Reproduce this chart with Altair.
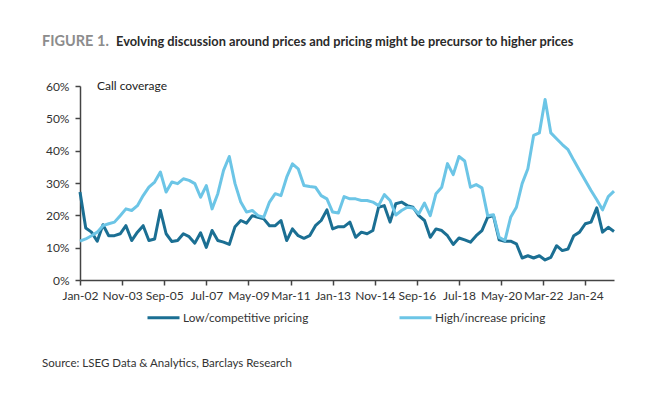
import altair as alt
import pandas as pd

# Quarterly observations, Jan-02 .. Apr-25 (value in %)
low = [27.2, 16.1, 14.8, 12.0, 17.1, 13.7, 13.7, 14.3, 16.8, 12.2, 14.8, 16.8, 12.2, 12.7,
       21.5, 14.3, 11.9, 12.2, 14.3, 13.4, 11.4, 14.6, 10.1, 15.3, 12.2, 11.7, 11.0, 16.5,
       18.4, 17.6, 19.9, 19.4, 18.9, 16.8, 16.8, 18.4, 12.2, 15.8, 13.7, 12.9, 13.7, 16.8,
       18.4, 21.7, 15.8, 16.5, 16.5, 17.9, 13.2, 14.8, 14.3, 15.3, 22.5, 23.0, 17.9, 23.6,
       24.1, 23.0, 22.5, 19.9, 18.4, 13.2, 15.8, 15.3, 13.7, 11.0, 13.0, 12.4, 11.7, 13.7,
       15.3, 19.4, 19.9, 12.4, 12.0, 12.0, 11.2, 6.8, 7.5, 6.8, 7.5, 6.2, 7.0, 10.6,
       9.1, 9.6, 13.7, 14.8, 17.4, 17.9, 22.3, 14.8, 16.3, 15.0]
high = [12.0, 12.7, 13.7, 14.8, 16.8, 17.4, 17.9, 19.9, 22.0, 21.5, 23.0, 26.1, 28.7, 30.3,
        33.4, 27.2, 30.3, 29.8, 31.3, 30.8, 29.8, 25.6, 29.2, 22.0, 26.7, 33.9, 38.2, 29.8,
        24.1, 21.0, 21.5, 19.9, 19.4, 24.1, 26.7, 26.1, 31.8, 35.9, 34.4, 29.2, 28.9, 28.7,
        26.1, 25.1, 21.0, 20.7, 25.8, 25.1, 25.1, 24.6, 24.6, 24.1, 23.0, 26.4, 24.6, 20.1,
        21.5, 22.5, 22.3, 20.5, 23.8, 19.9, 26.7, 28.7, 36.0, 32.6, 38.2, 36.8, 28.7, 29.5,
        28.5, 19.9, 20.2, 13.2, 12.2, 19.4, 22.5, 29.8, 34.4, 44.7, 45.5, 55.8, 45.5, 43.7,
        41.9, 40.3, 37.0, 33.9, 30.8, 27.7, 24.8, 21.7, 25.8, 27.5]
months = [3 * i for i in range(len(low))]  # months since Jan-02

series_names = ["Low/competitive pricing", "High/increase pricing"]
series_colors = ["#1b6f93", "#6cc5e6"]
tick_labels = ["Jan-02", "Nov-03", "Sep-05", "Jul-07", "May-09", "Mar-11", "Jan-13",
               "Nov-14", "Sep-16", "Jul-18", "May-20", "Mar-22", "Jan-24"]
tick_months = [22 * k for k in range(len(tick_labels))]
y_ticks = [0, 0.1, 0.2, 0.3, 0.4, 0.5, 0.6]

rows = []
for m, a, b in zip(months, low, high):
    rows.append({"m": m, "v": a / 100, "s": series_names[0]})
    rows.append({"m": m, "v": b / 100, "s": series_names[1]})
df = pd.DataFrame(rows)

FONT = "Lato"
label_arr = "[" + ",".join("'%s'" % t for t in tick_labels) + "]"

lines = alt.Chart(df).mark_line(strokeWidth=3, strokeJoin="round").encode(
    x=alt.X("m:Q",
            scale=alt.Scale(domain=[0, months[-1]], nice=False, zero=False),
            axis=alt.Axis(title=None, values=tick_months, grid=False,
                          labelExpr=label_arr + "[round(datum.value/22)]",
                          labelOverlap=False, labelFlush=False,
                          domainColor="#444", domainWidth=1.5, tickColor="#444",
                          tickWidth=1.5, tickSize=5, labelPadding=5,
                          labelFont=FONT, labelFontSize=12, labelColor="#333")),
    y=alt.Y("v:Q",
            scale=alt.Scale(domain=[0, 0.6], nice=False),
            axis=alt.Axis(title=None, values=y_ticks, format=".0%", grid=False,
                          domainColor="#444", domainWidth=1.5, tickColor="#444",
                          tickWidth=1.5, tickSize=5, labelPadding=6,
                          labelFont=FONT, labelFontSize=12, labelColor="#333")),
    color=alt.Color("s:N", sort=series_names,
                    scale=alt.Scale(domain=series_names, range=series_colors),
                    legend=alt.Legend(title=None, orient="none", legendX=66, legendY=214,
                                      direction="horizontal", symbolType="stroke",
                                      symbolSize=1024, symbolStrokeWidth=3,
                                      columnPadding=84, labelOffset=2,
                                      labelFont=FONT, labelFontSize=11.8,
                                      labelColor="#333")),
    order=alt.Order("m:Q"),
)

def txt(text, x, y, size, color, weight="normal"):
    return alt.Chart(pd.DataFrame({"t": [text]})).mark_text(
        align="left", baseline="middle", font=FONT, fontSize=size,
        color=color, fontWeight=weight
    ).encode(x=alt.value(x), y=alt.value(y), text="t:N")

fig = txt("FIGURE 1.", -38, -44, 14.5, "#8c8c8c", "bold")
title = txt("Evolving discussion around prices and pricing might be precursor to higher prices",
            36, -44, 12.8, "#2a2a2a", "bold")
callcov = txt("Call coverage", 17, 0, 12, "#222")
source = txt("Source:  LSEG Data & Analytics, Barclays Research", -38, 278, 11.5, "#333")

chart = alt.layer(lines, fig, title, callcov, source).properties(
    width=534, height=194,
    autosize=alt.AutoSizeParams(type="none"),
    padding={"left": 72, "top": 78, "right": 40, "bottom": 100},
    background="white",
).configure_view(stroke=None)

chart.save("out.html", embed_options={"renderer": "svg", "actions": False})
